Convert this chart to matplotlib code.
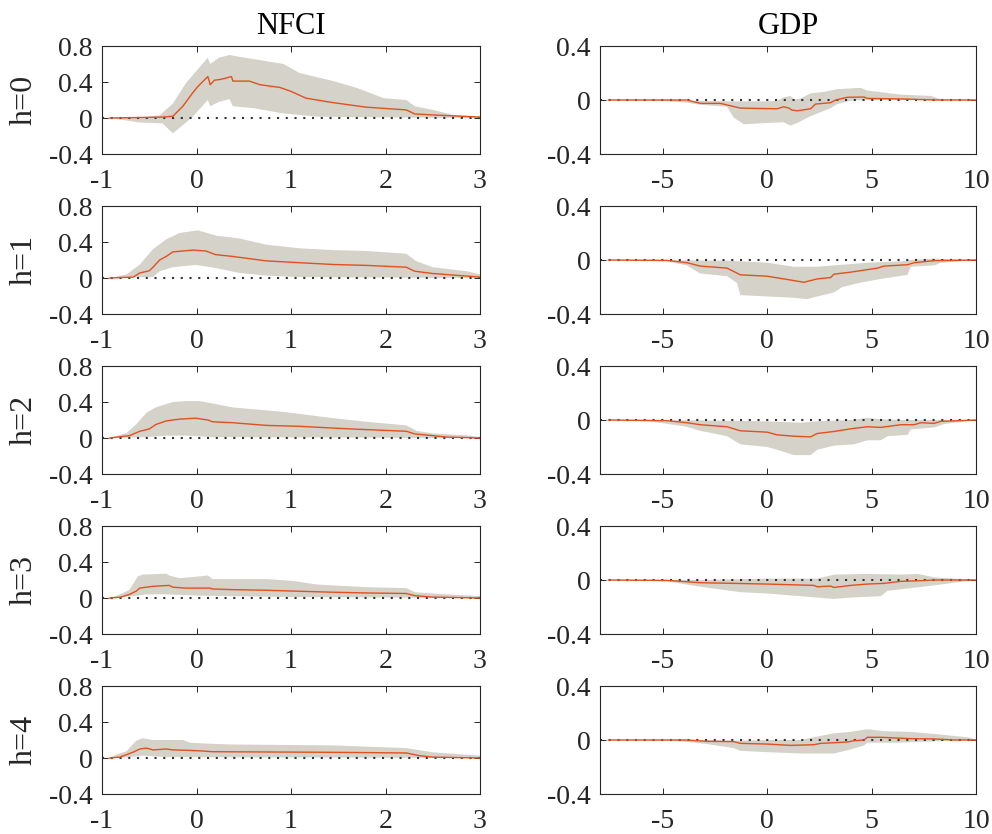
import numpy as np
import matplotlib
matplotlib.use("Agg")
import matplotlib.pyplot as plt
from matplotlib.ticker import FuncFormatter

plt.rcParams['font.family'] = ['Liberation Serif', 'DejaVu Serif']
plt.rcParams['axes.unicode_minus'] = False

col_titles = ["NFCI", "GDP"]
row_labels = ["h=0", "h=1", "h=2", "h=3", "h=4"]
nfci_xticks = [-1, 0, 1, 2, 3]
gdp_xticks = [-5, 0, 5, 10]
nfci_yticks = [-0.4, 0, 0.4, 0.8]
gdp_yticks = [-0.4, 0, 0.4]

# ---------------- NFCI column ----------------
# h=0
n0_mx = [-0.92, -0.36, -0.25, -0.145, -0.04, 0.014, 0.12, 0.145, 0.19, 0.26, 0.37, 0.385, 0.56, 0.67, 0.88, 0.99, 1.16, 1.45, 1.80, 2.22, 2.31, 2.5, 3.0]
n0_m = [0, 0.01, 0.02, 0.13, 0.28, 0.35, 0.46, 0.37, 0.42, 0.43, 0.46, 0.41, 0.41, 0.37, 0.34, 0.30, 0.22, 0.17, 0.12, 0.09, 0.045, 0.034, 0.01]
n0_ux = [-0.92, -0.6, -0.39, -0.25, -0.11, 0.03, 0.12, 0.145, 0.24, 0.35, 0.45, 0.63, 0.92, 1.09, 1.45, 1.71, 1.98, 2.22, 2.31, 2.5, 2.72, 3.0]
n0_u = [0, 0.0, 0.03, 0.16, 0.39, 0.56, 0.67, 0.6, 0.67, 0.70, 0.68, 0.65, 0.6, 0.5, 0.41, 0.33, 0.22, 0.2, 0.13, 0.09, 0.034, 0.015]
n0_lx = [-0.92, -0.6, -0.36, -0.25, -0.145, -0.04, 0.12, 0.145, 0.24, 0.35, 0.385, 0.6, 0.92, 1.27, 1.8, 3.0]
n0_l = [0, -0.05, -0.06, -0.17, -0.08, 0.015, 0.2, 0.13, 0.18, 0.21, 0.13, 0.11, 0.05, 0.015, 0.008, 0]
# h=1
n1_mx = [-0.92, -0.67, -0.6, -0.5, -0.46, -0.39, -0.32, -0.25, -0.04, 0.1, 0.2, 0.38, 0.74, 1.09, 1.45, 1.8, 2.22, 2.31, 2.5, 3.0]
n1_m = [0, 0.01, 0.056, 0.08, 0.12, 0.2, 0.24, 0.29, 0.31, 0.30, 0.26, 0.24, 0.19, 0.17, 0.15, 0.14, 0.12, 0.075, 0.05, 0.01]
n1_ux = [-0.92, -0.74, -0.6, -0.46, -0.32, -0.18, 0.014, 0.21, 0.45, 0.74, 1.09, 1.45, 1.8, 2.22, 2.32, 2.5, 2.86, 3.0]
n1_u = [0, 0.04, 0.15, 0.32, 0.43, 0.5, 0.53, 0.47, 0.44, 0.37, 0.33, 0.31, 0.30, 0.27, 0.19, 0.12, 0.075, 0.04]
n1_lx = [-0.92, -0.67, -0.46, -0.39, -0.25, -0.004, 0.21, 0.45, 0.74, 1.09, 3.0]
n1_l = [0, 0.008, 0.01, 0.075, 0.12, 0.145, 0.11, 0.056, 0.026, 0.01, 0]
# h=2
n2_mx = [-0.92, -0.71, -0.6, -0.5, -0.43, -0.32, -0.18, -0.004, 0.12, 0.17, 0.38, 0.74, 1.09, 1.45, 1.8, 2.22, 2.31, 2.5, 2.65, 3.0]
n2_m = [0, 0.026, 0.075, 0.1, 0.15, 0.19, 0.21, 0.22, 0.2, 0.18, 0.17, 0.14, 0.13, 0.11, 0.093, 0.075, 0.045, 0.026, 0.01, 0]
n2_ux = [-0.92, -0.74, -0.64, -0.53, -0.43, -0.25, -0.11, 0.03, 0.14, 0.38, 0.92, 1.45, 1.8, 2.22, 2.33, 2.5, 2.86, 3.0]
n2_u = [0, 0.056, 0.15, 0.28, 0.34, 0.4, 0.41, 0.41, 0.39, 0.34, 0.29, 0.22, 0.18, 0.14, 0.08, 0.05, 0.03, 0.01]
n2_lx = [-0.92, -0.53, -0.32, -0.11, 0.17, 3.0]
n2_l = [0, 0.01, 0.026, 0.026, 0.01, 0]
# h=3
n3_mx = [-0.92, -0.81, -0.71, -0.64, -0.6, -0.46, -0.29, -0.25, -0.11, 0.14, 0.17, 0.38, 0.74, 1.09, 1.45, 1.8, 2.22, 2.31, 2.5, 3.0]
n3_m = [0, 0.008, 0.04, 0.075, 0.11, 0.13, 0.14, 0.12, 0.11, 0.11, 0.1, 0.093, 0.086, 0.075, 0.064, 0.056, 0.05, 0.026, 0.01, 0]
n3_ux = [-0.92, -0.81, -0.71, -0.62, -0.57, -0.32, -0.29, -0.18, 0.03, 0.12, 0.17, 0.74, 1.02, 1.27, 1.8, 2.22, 2.31, 2.5, 3.0]
n3_u = [0, 0.04, 0.09, 0.24, 0.26, 0.27, 0.25, 0.22, 0.24, 0.25, 0.21, 0.21, 0.19, 0.15, 0.12, 0.11, 0.064, 0.05, 0.02]
n3_lx = [-0.92, -0.67, -0.53, -0.32, 0.03, 0.38, 1.09, 3.0]
n3_l = [0, 0.02, 0.04, 0.04, 0.026, 0.02, 0.01, 0]
# h=4
n4_mx = [-0.92, -0.81, -0.67, -0.6, -0.53, -0.46, -0.32, -0.25, -0.11, 0.03, 0.17, 0.74, 1.45, 2.22, 2.36, 2.5, 3.0]
n4_m = [0, 0.01, 0.065, 0.1, 0.11, 0.09, 0.1, 0.09, 0.086, 0.08, 0.07, 0.067, 0.063, 0.056, 0.026, 0.01, 0]
n4_ux = [-0.92, -0.85, -0.74, -0.64, -0.57, -0.46, -0.32, -0.14, -0.07, 0.1, 0.38, 1.45, 2.22, 2.5, 3.0]
n4_u = [0, 0.037, 0.075, 0.19, 0.22, 0.2, 0.2, 0.2, 0.17, 0.16, 0.15, 0.14, 0.11, 0.063, 0.026]
n4_lx = [-0.92, -0.71, -0.57, -0.32, 3.0]
n4_l = [0, 0.01, 0.026, 0.01, 0]

# ---------------- GDP column ----------------
# h=0
g0_mx = [-7.6, -3.84, -3.2, -2.24, -1.28, 0.48, 0.8, 1.04, 1.2, 1.44, 2.08, 2.32, 3.04, 3.28, 3.84, 4.64, 4.8, 6.4, 8.0, 10.0]
g0_m = [0, 0, -0.025, -0.025, -0.06, -0.065, -0.05, -0.06, -0.075, -0.08, -0.065, -0.03, -0.02, 0.0, 0.02, 0.022, 0.012, 0.008, 0.0, 0.0]
g0_ux = [-7.6, -4.8, -3.84, -1.92, 0.0, 0.48, 0.8, 1.12, 1.28, 1.6, 2.08, 2.72, 3.36, 4.48, 4.8, 6.4, 7.84, 8.32, 10.0]
g0_u = [0, 0, -0.005, -0.01, -0.01, -0.005, 0.02, 0.03, 0.005, 0.01, 0.05, 0.06, 0.08, 0.09, 0.07, 0.04, 0.03, 0.005, 0.0]
g0_lx = [-7.6, -5.12, -3.84, -3.2, -1.92, -1.6, -1.12, 0.0, 0.8, 1.12, 1.44, 2.08, 3.04, 3.36, 4.0, 4.8, 10.0]
g0_l = [0, -0.005, -0.02, -0.035, -0.05, -0.13, -0.18, -0.17, -0.165, -0.19, -0.17, -0.12, -0.06, -0.03, -0.005, 0.0, 0.0]
# h=1
g1_mx = [-7.6, -4.8, -3.84, -3.2, -1.92, -1.28, 0.0, 0.8, 1.76, 2.4, 3.04, 3.2, 4.0, 5.28, 5.6, 6.72, 7.04, 8.0, 10.0]
g1_m = [0, -0.003, -0.02, -0.045, -0.06, -0.11, -0.12, -0.14, -0.165, -0.14, -0.13, -0.105, -0.09, -0.06, -0.045, -0.035, -0.02, -0.005, 0.0]
g1_ux = [-7.6, -4.0, -1.92, 0.0, 1.28, 2.4, 3.2, 4.8, 6.4, 6.88, 8.0, 8.96, 10.0]
g1_u = [0, -0.003, -0.005, -0.02, -0.05, -0.05, -0.04, -0.02, -0.01, 0.0, 0.01, 0.005, 0.0]
g1_lx = [-7.6, -4.8, -3.84, -3.2, -1.92, -1.44, -1.28, 0.0, 1.28, 1.92, 2.4, 3.2, 3.6, 4.4, 5.44, 6.72, 6.88, 8.0, 8.32, 10.0]
g1_l = [0, -0.01, -0.04, -0.1, -0.12, -0.17, -0.26, -0.27, -0.28, -0.29, -0.27, -0.24, -0.2, -0.17, -0.14, -0.11, -0.05, -0.04, -0.02, 0.0]
# h=2
g2_mx = [-7.6, -4.8, -3.84, -3.2, -1.92, -1.28, 0.0, 0.48, 1.28, 2.08, 2.4, 3.2, 4.0, 4.8, 5.44, 6.4, 7.04, 7.36, 8.0, 8.32, 10.0]
g2_m = [0, -0.005, -0.02, -0.035, -0.05, -0.08, -0.09, -0.11, -0.12, -0.125, -0.1, -0.085, -0.065, -0.05, -0.055, -0.035, -0.035, -0.02, -0.025, -0.01, 0.0]
g2_ux = [-7.6, -3.2, 0.0, 1.6, 2.4, 4.0, 4.8, 5.44, 6.4, 8.0, 10.0]
g2_u = [0, -0.003, -0.01, -0.02, -0.01, 0.0, 0.015, 0.005, 0.0, 0.0, 0.0]
g2_lx = [-7.6, -5.6, -3.84, -3.2, -1.92, -1.28, 0.0, 0.48, 1.28, 2.08, 2.4, 3.2, 4.16, 4.8, 5.44, 5.76, 6.72, 6.88, 8.0, 8.48, 10.0]
g2_l = [0, -0.01, -0.05, -0.08, -0.12, -0.18, -0.2, -0.22, -0.26, -0.26, -0.22, -0.19, -0.18, -0.15, -0.15, -0.12, -0.11, -0.07, -0.055, -0.03, 0.0]
# h=3
g3_mx = [-7.6, -4.8, -3.2, 0.0, 2.24, 2.4, 3.04, 3.2, 4.0, 4.8, 5.6, 6.4, 7.36, 8.0, 10.0]
g3_m = [0, -0.003, -0.02, -0.03, -0.04, -0.05, -0.045, -0.055, -0.04, -0.03, -0.025, -0.01, -0.005, 0.0, 0.0]
g3_ux = [-7.6, -3.2, 0.0, 2.4, 3.2, 4.8, 6.4, 7.2, 8.0, 8.96, 10.0]
g3_u = [0, 0, 0.01, 0.01, 0.04, 0.045, 0.04, 0.045, 0.02, 0.01, 0.0]
g3_lx = [-7.6, -4.8, -3.2, -1.28, 0.0, 1.6, 2.4, 3.2, 4.0, 5.44, 5.76, 6.88, 8.0, 8.96, 10.0]
g3_l = [0, -0.01, -0.05, -0.09, -0.1, -0.12, -0.13, -0.14, -0.13, -0.12, -0.08, -0.06, -0.04, -0.02, 0.0]
# h=4
g4_mx = [-7.6, -3.84, -2.88, -1.6, -1.28, 0.0, 1.12, 2.24, 2.56, 3.84, 4.16, 4.64, 4.8, 5.44, 6.88, 8.0, 8.96, 10.0]
g4_m = [0, 0, -0.01, -0.012, -0.025, -0.03, -0.04, -0.035, -0.025, -0.015, -0.005, 0.0, 0.02, 0.02, 0.01, 0.008, 0.0, 0.0]
g4_ux = [-7.6, -3.2, -1.6, 0.32, 1.6, 2.24, 3.2, 4.0, 4.8, 5.6, 6.88, 8.0, 9.6, 10.0]
g4_u = [0, 0, -0.005, 0.0, 0.0, 0.02, 0.05, 0.06, 0.08, 0.065, 0.06, 0.045, 0.02, 0.005]
g4_lx = [-7.6, -4.48, -2.88, -1.6, -1.28, 0.0, 1.6, 2.56, 3.2, 4.0, 4.64, 4.8, 6.4, 8.0, 10.0]
g4_l = [0, -0.005, -0.03, -0.06, -0.08, -0.09, -0.1, -0.1, -0.1, -0.07, -0.04, -0.02, -0.02, -0.01, 0.0]

nfci_panels = [
    (n0_mx, n0_m, n0_ux, n0_u, n0_lx, n0_l),
    (n1_mx, n1_m, n1_ux, n1_u, n1_lx, n1_l),
    (n2_mx, n2_m, n2_ux, n2_u, n2_lx, n2_l),
    (n3_mx, n3_m, n3_ux, n3_u, n3_lx, n3_l),
    (n4_mx, n4_m, n4_ux, n4_u, n4_lx, n4_l),
]
gdp_panels = [
    (g0_mx, g0_m, g0_ux, g0_u, g0_lx, g0_l),
    (g1_mx, g1_m, g1_ux, g1_u, g1_lx, g1_l),
    (g2_mx, g2_m, g2_ux, g2_u, g2_lx, g2_l),
    (g3_mx, g3_m, g3_ux, g3_u, g3_lx, g3_l),
    (g4_mx, g4_m, g4_ux, g4_u, g4_lx, g4_l),
]

W, H = 992, 834
fig = plt.figure(figsize=(W / 100, H / 100), dpi=100)

band_color = '#d4d2c9'
line_color = '#e2501f'
axis_color = '#262626'
FS = 20


def fmt(v, pos):
    s = '%g' % v
    if s == '-0':
        s = '0'
    return s


col_left = [102, 600]
col_width = [378, 376]
row_top = [46, 206, 366, 526, 686]
ax_h = 108

for c in range(2):
    for r in range(5):
        left = col_left[c] / W
        bottom = 1 - (row_top[r] + ax_h) / H
        ax = fig.add_axes([left, bottom, col_width[c] / W, ax_h / H])
        if c == 0:
            mx, m, ux, u, lx, l = nfci_panels[r]
            ax.set_xlim(-1, 3)
            ax.set_ylim(-0.4, 0.8)
            ax.set_xticks(nfci_xticks)
            ax.set_yticks(nfci_yticks)
            ax.set_ylabel(row_labels[r], fontsize=23, color=axis_color, labelpad=7)
        else:
            mx, m, ux, u, lx, l = gdp_panels[r]
            ax.set_xlim(-8, 10)
            ax.set_ylim(-0.4, 0.4)
            ax.set_xticks(gdp_xticks)
            ax.set_yticks(gdp_yticks)
        poly_x = list(ux) + list(lx)[::-1]
        poly_y = list(u) + list(l)[::-1]
        ax.fill(poly_x, poly_y, color=band_color, lw=0, zorder=1)
        ax.plot(mx, m, color=line_color, lw=1.0, zorder=3)
        ax.axhline(0, color='#333333', lw=1.5, ls=(0, (1, 3.2)), zorder=2)
        ax.yaxis.set_major_formatter(FuncFormatter(fmt))
        ax.xaxis.set_major_formatter(FuncFormatter(fmt))
        ax.tick_params(direction='in', length=4, width=0.7, colors=axis_color,
                       labelsize=FS, top=True, right=True, pad=7)
        ax.tick_params(axis='x', pad=11)
        for sp in ax.spines.values():
            sp.set_color(axis_color)
            sp.set_linewidth(0.8)
        if r == 0:
            ax.set_title(col_titles[c], fontsize=22, color='black', pad=9)

fig.savefig('out.png', dpi=100)
